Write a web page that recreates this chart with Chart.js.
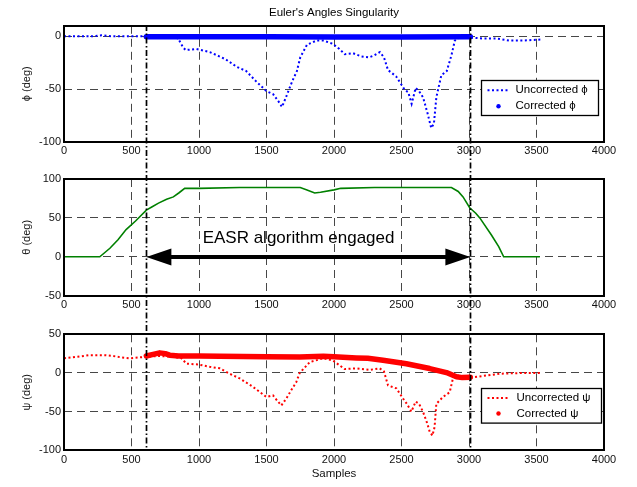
<!DOCTYPE html>
<html>
<head>
<meta charset="utf-8">
<script src="https://cdn.jsdelivr.net/npm/chart.js@4.4.0/dist/chart.umd.min.js"></script>
<style>
  html, body { margin: 0; padding: 0; background: #fff; }
  #wrap { position: relative; width: 637px; height: 487px; }
  canvas { position: absolute; left: 0; }
</style>
</head>
<body>
<div id="wrap">
  <canvas id="phi" width="637" height="160" style="top:0px"></canvas>
  <canvas id="theta" width="637" height="160" style="top:160px"></canvas>
  <canvas id="psi" width="637" height="167" style="top:320px"></canvas>
</div>
<script>
const xTicks = [0, 500, 1000, 1500, 2000, 2500, 3000, 3500, 4000];
const phiTicks = [-100, -50, 0];
const thetaTicks = [-50, 0, 50, 100];
const psiTicks = [-100, -50, 0, 50];

// samples where the EASR correction is switched on / off
const engageStart = 610;
const engageEnd = 3010;

const phiRawX = [0, 100, 200, 280, 350, 450, 550, 610, 700, 800, 845, 880, 900, 980, 1080, 1150, 1200, 1280, 1350, 1425, 1500, 1550, 1590, 1615, 1650, 1680, 1700, 1725, 1750, 1800, 1870, 1920, 1990, 2040, 2080, 2140, 2200, 2260, 2300, 2340, 2370, 2400, 2460, 2500, 2525, 2550, 2575, 2605, 2630, 2660, 2695, 2720, 2740, 2758, 2795, 2835, 2870, 2895, 2930, 3000, 3100, 3200, 3300, 3400, 3530];
const phiRawY = [0, 0, 0, 1, 0, 0, 0, 0, 0, 0, -2, -10, -13, -12, -15, -19, -22, -29, -33, -43, -52, -55, -62, -67, -56, -46, -40, -33, -20, -8, -4, -4, -7, -12, -17, -16, -19, -20, -18, -15, -20, -32, -38, -46, -51, -53, -64, -49, -52, -58, -74, -87, -83, -58, -37, -33, -18, -4, -1, -1, -2, -2, -4, -4, -3];
const phiFixX = [610, 1000, 1500, 2000, 2500, 3010];
const phiFixY = [-0.5, -0.5, -0.5, -0.7, -0.7, -0.5];

const thetaX = [0, 265, 340, 400, 460, 530, 610, 650, 700, 760, 810, 850, 894, 1000, 1300, 1750, 1800, 1857, 1900, 2000, 2050, 2300, 2870, 2920, 2956, 3005, 3050, 3080, 3166, 3220, 3257, 3525];
const thetaY = [0, 0, 11, 22, 35, 46, 60, 64, 69, 74, 77, 82, 88, 88, 89, 89, 86, 82, 83, 86, 88, 89, 89, 84, 77, 63, 56, 50, 28, 13, 0, 0];

const psiRawX = [0, 100, 190, 300, 360, 430, 487, 550, 610, 700, 800, 870, 907, 993, 1079, 1153, 1227, 1301, 1400, 1499, 1548, 1580, 1610, 1647, 1684, 1720, 1746, 1820, 1921, 1993, 2040, 2079, 2166, 2264, 2338, 2370, 2400, 2462, 2511, 2540, 2573, 2605, 2630, 2659, 2690, 2709, 2729, 2745, 2758, 2807, 2857, 2881, 2907, 2950, 3018, 3100, 3227, 3400, 3525];
const psiRawY = [19, 21, 23, 23, 22, 20, 19, 20, 21, 22, 21, 19, 12, 11, 8, 6, -1, -7, -18, -31, -29, -36, -42, -33, -22, -12, 0, 14, 19, 16, 10, 5, 6, 4, 6, 2, -16, -20, -33, -40, -50, -37, -40, -50, -65, -76, -81, -70, -40, -31, -25, -7, -3, -5, -6, -4, -1, 0, 0];
const psiFixX = [610, 660, 709, 750, 783, 850, 1000, 1153, 1500, 1746, 1921, 2000, 2166, 2250, 2363, 2536, 2709, 2833, 2907, 2950, 3010];
const psiFixY = [22, 24, 26, 25, 23, 22, 22, 21.6, 21, 20.7, 21.6, 21, 19.5, 19, 16.5, 12, 5.7, 0.5, -5, -6, -5.5];

const FONT = '"Liberation Sans", Arial, sans-serif';
Chart.defaults.font.family = FONT;
Chart.defaults.font.size = 11;
Chart.defaults.color = '#111';

const pts = (xs, ys) => xs.map((x, i) => ({x: x, y: ys[i]}));

// solid box round the plot area
const frame = {
  id: 'frame',
  afterDraw(chart) {
    const {ctx, chartArea: a} = chart;
    ctx.save();
    ctx.strokeStyle = '#000';
    ctx.lineWidth = 2;
    ctx.strokeRect(Math.round(a.left), Math.round(a.top), Math.round(a.width), Math.round(a.height));
    ctx.restore();
  }
};

// boxed legend sitting inside the axes
const boxLegend = {
  id: 'boxLegend',
  afterDraw(chart, args, o) {
    const {ctx, chartArea: a} = chart;
    const x0 = Math.round(a.right - o.right - o.width) + 0.5;
    const y0 = Math.round(a.top + o.top) + 0.5;
    ctx.save();
    ctx.fillStyle = '#fff';
    ctx.fillRect(x0, y0, o.width, o.height);
    ctx.strokeStyle = '#000';
    ctx.lineWidth = 1.3;
    ctx.strokeRect(x0, y0, o.width, o.height);
    ctx.font = '11.5px ' + FONT;
    ctx.textBaseline = 'middle';
    chart.data.datasets.forEach((ds, i) => {
      const y = y0 + o.rowTop + i * o.rowGap;
      ctx.strokeStyle = ds.borderColor;
      ctx.fillStyle = ds.borderColor;
      if (ds.borderDash) {
        ctx.lineWidth = 2;
        ctx.setLineDash(ds.borderDash);
        ctx.beginPath();
        ctx.moveTo(x0 + 6, y);
        ctx.lineTo(x0 + 26, y);
        ctx.stroke();
        ctx.setLineDash([]);
      } else {
        ctx.beginPath();
        ctx.arc(x0 + 17, y, 2.2, 0, Math.PI * 2);
        ctx.fill();
      }
      ctx.fillStyle = '#000';
      ctx.fillText(ds.label, x0 + o.textX, y);
    });
    ctx.restore();
  }
};

// dash-dot markers at engage / disengage, running through all three panels
const engageLines = {
  id: 'engageLines',
  afterDraw(chart, args, o) {
    const {ctx, chartArea: a, scales: {x}} = chart;
    const y0 = o.fromArea ? a.top : 0;
    const y1 = o.toArea ? a.bottom : chart.height;
    ctx.save();
    ctx.strokeStyle = '#000';
    ctx.lineWidth = 1.7;
    ctx.setLineDash([6, 2.5, 1.5, 2.5]);
    ctx.lineDashOffset = y0 + o.offsetTop;
    [engageStart, engageEnd].forEach(v => {
      const px = Math.round(x.getPixelForValue(v)) + 0.5;
      ctx.beginPath();
      ctx.moveTo(px, y0);
      ctx.lineTo(px, y1);
      ctx.stroke();
    });
    ctx.restore();
  }
};

// double arrow + caption on the theta panel
const engagedArrow = {
  id: 'engagedArrow',
  beforeDraw(chart, args, o) {
    const {ctx, scales: {x, y}} = chart;
    ctx.save();
    ctx.font = '17px ' + FONT;
    ctx.fillStyle = '#000';
    ctx.textAlign = 'left';
    ctx.textBaseline = 'alphabetic';
    ctx.fillText(o.text, x.getPixelForValue(o.at[0]), y.getPixelForValue(o.at[1]));
    ctx.restore();
  },
  afterDatasetsDraw(chart) {
    const {ctx, scales: {x, y}} = chart;
    const x1 = x.getPixelForValue(engageStart);
    const x2 = x.getPixelForValue(engageEnd);
    const yy = Math.round(y.getPixelForValue(0));
    ctx.save();
    ctx.strokeStyle = '#000';
    ctx.fillStyle = '#000';
    ctx.lineWidth = 4;
    ctx.beginPath();
    ctx.moveTo(x1 + 20, yy);
    ctx.lineTo(x2 - 20, yy);
    ctx.stroke();
    ctx.beginPath();
    ctx.moveTo(x1, yy);
    ctx.lineTo(x1 + 25, yy - 8.5);
    ctx.lineTo(x1 + 25, yy + 8.5);
    ctx.closePath();
    ctx.fill();
    ctx.beginPath();
    ctx.moveTo(x2, yy);
    ctx.lineTo(x2 - 25, yy - 8.5);
    ctx.lineTo(x2 - 25, yy + 8.5);
    ctx.closePath();
    ctx.fill();
    ctx.restore();
  }
};

const gridColor = 'rgba(0,0,0,0.72)';
const plainNumber = v => String(v);

function makeScales(yMin, yMax, yTicks, yTitle, xHeight, xTitle) {
  return {
    x: {
      type: 'linear', min: 0, max: 4000,
      afterBuildTicks: s => { s.ticks = xTicks.map(v => ({value: v})); },
      grid: {color: gridColor, lineWidth: 1, drawTicks: false},
      border: {display: false, dash: [8, 5]},
      ticks: {padding: 3, autoSkip: false, maxRotation: 0, callback: plainNumber},
      title: xTitle
        ? {display: true, text: xTitle, padding: {top: 0, bottom: 6.4}, font: {size: 11.5}}
        : {display: false},
      afterFit: s => { s.height = xHeight; }
    },
    y: {
      min: yMin, max: yMax,
      afterBuildTicks: s => { s.ticks = yTicks.map(v => ({value: v})); },
      grid: {color: gridColor, lineWidth: 1, drawTicks: false},
      border: {display: false, dash: [8, 5]},
      ticks: {padding: 3, callback: plainNumber},
      title: {display: true, text: yTitle, padding: {top: 20, bottom: 0}, font: {size: 11}},
      afterFit: s => { s.width = 64; }
    }
  };
}

function rawSet(label, xs, ys, color) {
  return {label: label, data: pts(xs, ys), borderColor: color, backgroundColor: color,
    borderWidth: 2, borderDash: [2, 2.5], pointRadius: 0, tension: 0, fill: false, order: 2};
}
function fixSet(label, xs, ys, color) {
  return {label: label, data: pts(xs, ys), borderColor: color, backgroundColor: color,
    borderWidth: 5.5, borderCapStyle: 'round', borderJoinStyle: 'round',
    pointRadius: 0, tension: 0, fill: false, order: 1};
}

function createChart(id, datasets, scales, padding, plugins, pluginOpts) {
  return new Chart(document.getElementById(id), {
    type: 'line',
    data: {datasets: datasets},
    options: {
      responsive: false,
      animation: false,
      events: [],
      layout: {padding: padding},
      scales: scales,
      plugins: Object.assign({legend: {display: false}, tooltip: {enabled: false}}, pluginOpts)
    },
    plugins: plugins
  });
}

createChart('phi',
  [rawSet('Uncorrected \u03d5', phiRawX, phiRawY, '#0000ff'),
   fixSet('Corrected \u03d5', phiFixX, phiFixY, '#0000ff')],
  makeScales(-100, 10, phiTicks, '\u03d5 (deg)', 18.3, null),
  {left: 0, right: 33, top: 0, bottom: 0},
  [frame, boxLegend, engageLines],
  {
    title: {display: true, text: "Euler's Angles Singularity", fullSize: false,
      padding: {top: 6, bottom: 6}, font: {size: 11.5, weight: 'normal'}, color: '#000'},
    boxLegend: {right: 6, top: 54, width: 117, height: 35, rowTop: 9.7, rowGap: 16, textX: 34},
    engageLines: {fromArea: true, toArea: false, offsetTop: 0}
  });

createChart('theta',
  [{label: '\u03b8', data: pts(thetaX, thetaY), borderColor: '#008000', borderWidth: 1.6,
    pointRadius: 0, tension: 0, fill: false}],
  makeScales(-50, 100, thetaTicks, '\u03b8 (deg)', 24.3, null),
  {left: 0, right: 33, top: 19, bottom: 0},
  [frame, engagedArrow, engageLines],
  {
    engagedArrow: {text: 'EASR algorithm engaged', at: [1027, 17.4]},
    engageLines: {fromArea: false, toArea: false, offsetTop: 160}
  });

createChart('psi',
  [rawSet('Uncorrected \u03c8', psiRawX, psiRawY, '#ff0000'),
   fixSet('Corrected \u03c8', psiFixX, psiFixY, '#ff0000')],
  makeScales(-100, 50, psiTicks, '\u03c8 (deg)', 36.7, 'Samples'),
  {left: 0, right: 33, top: 14.3, bottom: 0},
  [frame, boxLegend, engageLines],
  {
    boxLegend: {right: 3, top: 53.4, width: 120, height: 34.6, rowTop: 9.6, rowGap: 15.4, textX: 35},
    engageLines: {fromArea: false, toArea: true, offsetTop: 320}
  });
</script>
</body>
</html>
